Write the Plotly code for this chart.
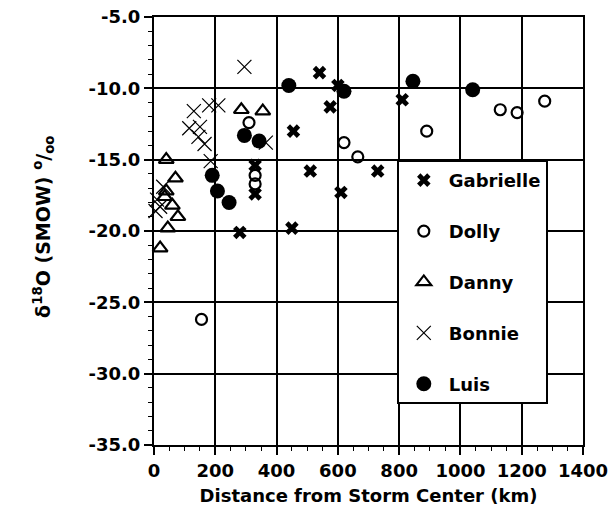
import plotly.graph_objects as go

# ---- data (distance km, delta18O permil) ----
gabrielle_x = [540, 600, 575, 455, 510, 730, 610, 450, 810, 280, 330, 330]
gabrielle_y = [-8.9, -9.8, -11.3, -13.0, -15.8, -15.8, -17.3, -19.8, -10.8, -20.1, -15.4, -17.4]

dolly_x = [155, 310, 330, 330, 620, 665, 890, 1130, 1185, 1275]
dolly_y = [-26.2, -12.4, -16.1, -16.7, -13.8, -14.8, -13.0, -11.5, -11.7, -10.9]

danny_x = [40, 70, 35, 40, 60, 78, 45, 20, 285, 355]
danny_y = [-15.0, -16.3, -17.6, -17.2, -18.2, -19.0, -19.8, -21.2, -11.5, -11.6]

bonnie_x = [295, 130, 180, 210, 115, 150, 145, 165, 185, 365, 30, 10, 5, 20]
bonnie_y = [-8.5, -11.6, -11.2, -11.2, -12.8, -12.7, -13.4, -13.9, -15.1, -13.8, -16.9, -17.8, -18.6, -18.3]

luis_x = [440, 620, 845, 1040, 295, 343, 190, 207, 245]
luis_y = [-9.8, -10.2, -9.5, -10.1, -13.3, -13.7, -16.1, -17.2, -18.0]

x_ticks = [0, 200, 400, 600, 800, 1000, 1200, 1400]
y_ticks = [-5, -10, -15, -20, -25, -30, -35]
y_ticklabels = ["-5.0", "-10.0", "-15.0", "-20.0", "-25.0", "-30.0", "-35.0"]

FONT = "DejaVu Sans"

fig = go.Figure()
series = [
    ("Gabrielle", gabrielle_x, gabrielle_y, dict(symbol="x", size=12, color="black",
                                                  line=dict(width=0))),
    ("Dolly", dolly_x, dolly_y, dict(symbol="circle-open", size=11, color="black",
                                      line=dict(width=2.2, color="black"))),
    ("Danny", danny_x, danny_y, dict(symbol="triangle-up-open", size=13, color="black",
                                      line=dict(width=2.2, color="black"))),
    ("Bonnie", bonnie_x, bonnie_y, dict(symbol="x-thin-open", size=14, color="black",
                                         line=dict(width=1.2, color="black"))),
    ("Luis", luis_x, luis_y, dict(symbol="circle", size=15, color="black",
                                   line=dict(width=0))),
]
for name, xs, ys, mk in series:
    fig.add_trace(go.Scatter(x=xs, y=ys, mode="markers", name=name, marker=mk,
                             legendgroup=name, cliponaxis=False))

fig.update_layout(
    width=616, height=523,
    margin=dict(l=146, r=41, t=9, b=86, autoexpand=False),
    paper_bgcolor="white", plot_bgcolor="white",
    font=dict(family=FONT, size=18, color="black"),
    showlegend=True,
    legend=dict(
        x=0.566, y=0.666, xanchor="left", yanchor="top",
        bgcolor="white", bordercolor="black", borderwidth=2,
        font=dict(family=FONT, size=18, color="black", weight="bold"),
        tracegroupgap=24.5, itemwidth=40,
    ),
)

fig.update_xaxes(
    range=[0, 1400], tickvals=x_ticks, ticktext=[str(v) for v in x_ticks],
    showline=True, linecolor="black", linewidth=2, mirror=True,
    showgrid=True, gridcolor="black", gridwidth=1.5,
    ticks="outside", ticklen=8, tickwidth=1.5, tickcolor="black",
    minor=dict(dtick=50, ticks="outside", ticklen=4, tickwidth=1, tickcolor="black", showgrid=False),
    tickfont=dict(family=FONT, size=18, color="black", weight="bold"),
    zeroline=False, automargin=False, ticklabeloverflow="allow",
    title=dict(text="Distance from Storm Center (km)", standoff=10,
               font=dict(family=FONT, size=18, color="black", weight="bold")),
)
fig.update_yaxes(
    range=[-35, -5], tickvals=y_ticks, ticktext=y_ticklabels,
    showline=True, linecolor="black", linewidth=2, mirror=True,
    showgrid=True, gridcolor="black", gridwidth=1.5,
    ticks="outside", ticklen=8, tickwidth=1.5, tickcolor="black",
    minor=dict(dtick=1, ticks="outside", ticklen=4, tickwidth=1, tickcolor="black", showgrid=False),
    tickfont=dict(family=FONT, size=18, color="black", weight="bold"),
    zeroline=False, automargin=False, ticklabeloverflow="allow",
)

fig.add_annotation(
    text="δ<sup>18</sup>O (SMOW) <sup>o</sup>/<sub>oo</sub>",
    xref="paper", yref="paper", x=-0.256, y=0.51,
    xanchor="center", yanchor="middle", textangle=-90, showarrow=False,
    font=dict(family=FONT, size=19, color="black", weight="bold"),
)

fig.write_html("out.html")
